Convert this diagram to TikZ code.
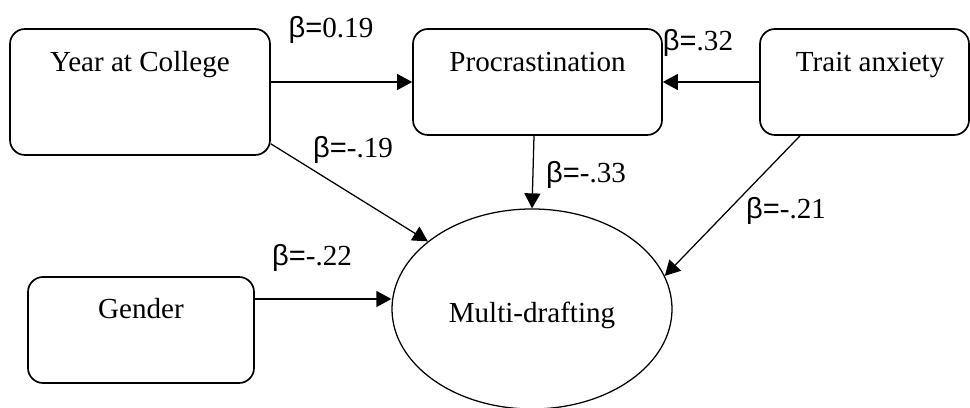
\documentclass[tikz,border=0pt]{standalone}
\usepackage{fontspec}
\setmainfont{Liberation Serif}
\newfontfamily\betafont{Liberation Sans}
\usetikzlibrary{positioning}
\usetikzlibrary{shapes.geometric}
\usetikzlibrary{arrows.meta}

\newcommand{\coef}[1]{{\betafont β=}#1}

\begin{document}
\begin{tikzpicture}[font=\fontsize{20.7}{24}\selectfont,
    box/.style={draw, line width=1.2pt, rounded corners=0.375cm},
    boxtext/.style={anchor=base, inner sep=0pt},
    arr/.style={-{Triangle[length=0.375cm,width=0.4cm]}, line width=0.9pt}]
        \useasboundingbox (0,0) rectangle (24.25,10.2);

        \node[box, minimum width=6.5cm, minimum height=3.15cm] (year) at (3.5,7.9) {};
        \node[box, minimum width=6.225cm, minimum height=2.65cm] (procr) at (13.4375,8.15) {};
        \node[box, minimum width=5.225cm, minimum height=2.65cm] (trait) at (21.6125,8.15) {};
        \node[box, minimum width=5.65cm, minimum height=2.65cm] (gender) at (3.525,1.95) {};
        \node[draw, ellipse, line width=0.9pt, minimum width=7cm, minimum height=5cm] (multi) at (13.3,2.475) {};

        \node[boxtext] (yeartxt) at ([yshift=-1.075cm]year.north) {Year at College};
        \node[boxtext] (procrtxt) at ([yshift=-1.075cm]procr.north) {Procrastination};
        \node[boxtext] (traittxt) at ([xshift=0.14cm,yshift=-1.075cm]trait.north) {Trait anxiety};
        \node[boxtext] (gendertxt) at ([yshift=-1.05cm]gender.north) {Gender};
        \node[boxtext] (multitxt) at ([yshift=-0.35cm]multi.center) {Multi-drafting};

        \coordinate (ystart) at ([yshift=0.3cm]year.south east);
        \coordinate (gstart) at ([yshift=0.775cm]gender.east);
        \coordinate (tstart) at ([xshift=-1.6125cm]trait.south);
        \coordinate (pstart) at ([xshift=0.05cm]multi.north |- procr.south);

        \draw[arr] (year.east |- procr.west) -- (procr.west);
        \draw[arr] (trait.west) -- (procr.east);
        \draw[arr] (pstart) -- (multi.north);
        \draw[arr] (ystart) -- (multi.147);
        \draw[arr] (gstart) -- (gstart -| multi.west);
        \draw[arr] (tstart) -- (multi.14);

        \node (b1) at (8.275,9.45) {\coef{0.19}};
        \node (b2) at (8.825,6.45) {\coef{-.19}};
        \node (b3) at (17.45,9.125) {\coef{.32}};
        \node (b4) at (14.65,5.825) {\coef{-.33}};
        \node (b5) at (7.8,3.75) {\coef{-.22}};
        \node (b6) at (19.65,4.925) {\coef{-.21}};
\end{tikzpicture}
\end{document}
